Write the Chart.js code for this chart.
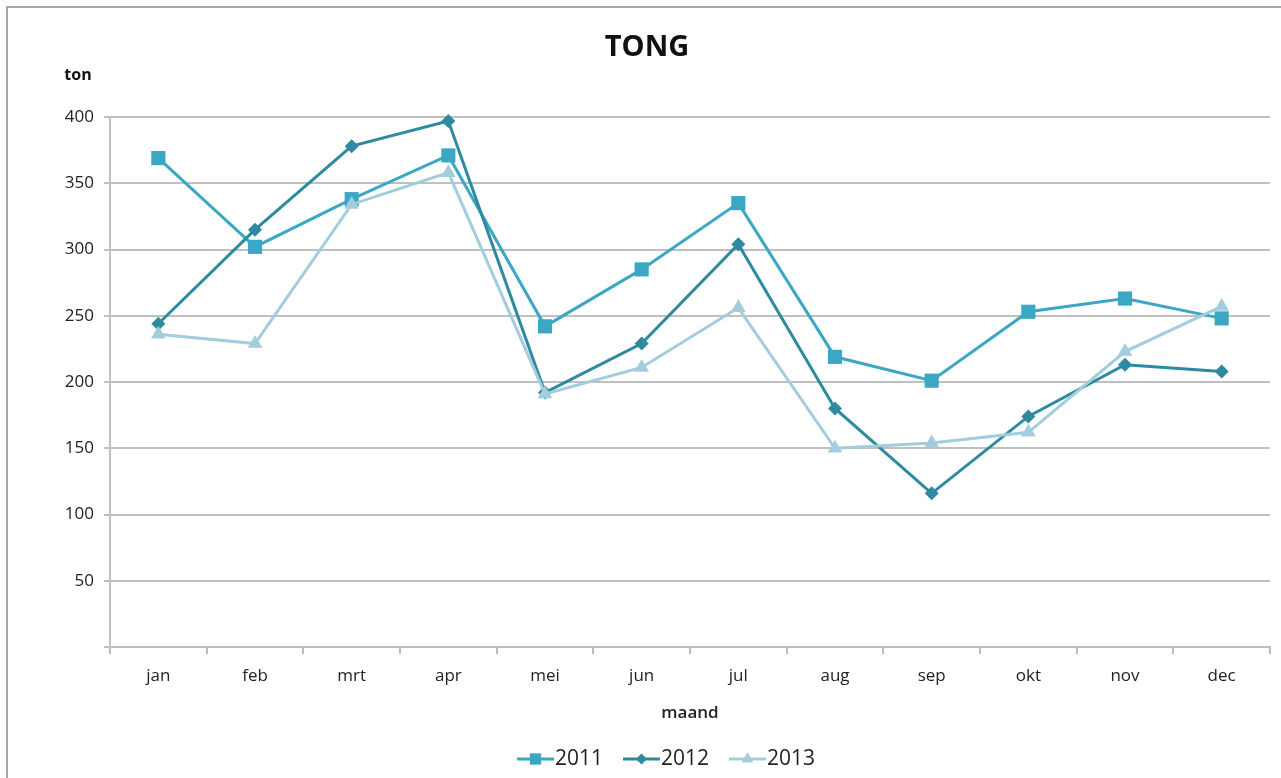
<!DOCTYPE html>
<html>
<head>
<meta charset="utf-8">
<script src="https://cdn.jsdelivr.net/npm/chart.js@4/dist/chart.umd.min.js"></script>
<style>
html,body{margin:0;padding:0;background:#fff;}
#wrap{position:absolute;left:0;top:0;width:1281px;height:778px;}
#frame{position:absolute;left:6px;top:6px;width:1290px;height:800px;border-left:2px solid #a8a8a8;border-top:2px solid #a8a8a8;}
canvas{position:absolute;left:0;top:0;}
</style>
</head>
<body>
<div id="wrap">
<div id="frame"></div>
<canvas id="c" width="1281" height="778"></canvas>
</div>
<script>
const chartTitle = 'TONG';
const yAxisTitle = 'ton';
const xAxisTitle = 'maand';
const categories = ['jan','feb','mrt','apr','mei','jun','jul','aug','sep','okt','nov','dec'];
const seriesNames = ['2011','2012','2013'];
const values2011 = [369, 302, 338, 371, 242, 285, 335, 219, 201, 253, 263, 248];
const values2012 = [244, 315, 378, 397, 192, 229, 304, 180, 116, 174, 213, 208];
const values2013 = [236, 229, 334, 358, 191, 211, 256, 150, 154, 162, 223, 257];
const yTicks = [0, 50, 100, 150, 200, 250, 300, 350, 400];

const colors = ['#3aa7c4', '#2d8aa1', '#a3cddd'];
const styles = ['rect', 'rectRot', 'triangle'];
const radii = [10, 7, 8.5];
const FONT = '"Open Sans", "DejaVu Sans", sans-serif';

const decor = {
  id: 'decor',
  afterDraw(chart) {
    const ctx = chart.ctx;
    const ca = chart.chartArea;
    ctx.save();
    ctx.fillStyle = '#111';
    ctx.textAlign = 'center';
    ctx.textBaseline = 'middle';
    ctx.font = 'bold 29px ' + FONT;
    ctx.fillText(chartTitle, 647, 48);
    ctx.font = 'bold 16px ' + FONT;
    ctx.fillText(yAxisTitle, 78, 75);
    ctx.fillStyle = '#222';
    ctx.font = '600 17px ' + FONT;
    ctx.fillText(xAxisTitle, (ca.left + ca.right) / 2 + 0, 713);
    // legend
    const starts = [517, 623, 729];
    ctx.textAlign = 'left';
    ctx.font = '21px ' + FONT;
    seriesNames.forEach((n, i) => {
      const x0 = starts[i], y = 759, w = 37;
      ctx.strokeStyle = colors[i];
      ctx.lineWidth = 3;
      ctx.beginPath(); ctx.moveTo(x0, y); ctx.lineTo(x0 + w, y); ctx.stroke();
      ctx.fillStyle = colors[i];
      Chart.helpers.drawPoint(ctx, {pointStyle: styles[i], radius: radii[i] * 0.8, borderWidth: 0, rotation: 0}, x0 + w / 2, y);
      ctx.fillStyle = '#222';
      ctx.fillText(n, x0 + w + 1, y);
    });
    ctx.restore();
  }
};

const datasets = [values2011, values2012, values2013].map((vals, i) => ({
  label: seriesNames[i],
  data: vals,
  borderColor: colors[i],
  backgroundColor: colors[i],
  pointBackgroundColor: colors[i],
  pointBorderColor: colors[i],
  pointBorderWidth: 0,
  pointStyle: styles[i],
  pointRadius: radii[i],
  borderWidth: 3,
  tension: 0,
  clip: false
})).reverse();

new Chart(document.getElementById('c'), {
  type: 'line',
  data: { labels: categories, datasets: datasets },
  options: {
    responsive: false,
    animation: false,
    devicePixelRatio: 1,
    layout: { padding: { top: 117, right: 11, left: 0, bottom: 0 } },
    plugins: { legend: { display: false }, title: { display: false }, tooltip: { enabled: false } },
    scales: {
      x: {
        offset: true,
        grid: { offset: true, drawOnChartArea: false, drawTicks: true, tickLength: 7, color: '#bdbdbd', lineWidth: 2 },
        border: { display: true, color: '#bdbdbd', width: 2 },
        ticks: { color: '#222', font: { family: FONT, size: 17 }, padding: 12 },
        afterFit(scale) { scale.height = 131; }
      },
      y: {
        min: 0, max: 400,
        afterBuildTicks(scale) { scale.ticks = yTicks.map(v => ({ value: v })); },
        grid: { color: '#c0c0c0', lineWidth: 2, tickLength: 6, drawTicks: true },
        border: { display: true, color: '#c0c0c0', width: 2 },
        ticks: { color: '#222', font: { family: FONT, size: 17 }, padding: 10, callback: v => v === 0 ? '' : String(v) },
        afterFit(scale) { scale.width = 110; }
      }
    }
  },
  plugins: [decor]
});
</script>
</body>
</html>
